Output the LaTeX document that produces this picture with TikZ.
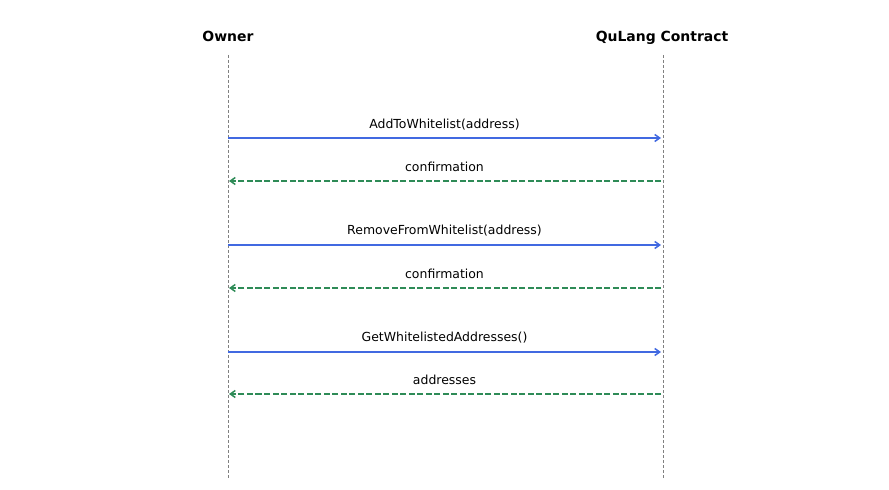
\documentclass[tikz,border=0pt]{standalone}
\usepackage{fontspec}
\setmainfont{DejaVu Sans}
\usetikzlibrary{arrows.meta}
\begin{document}
\begin{tikzpicture}[x=1bp,y=-1bp,
  actor/.style={font=\fontsize{14}{16}\selectfont\bfseries, inner sep=0pt, anchor=base},
  life/.style={draw=gray, line width=0.9bp, dash pattern=on 3bp off 2bp},
  call/.style={draw=royalblue, line width=1.5bp, -{Straight Barb[length=5bp,width=7bp]}},
  reply/.style={draw=seagreen, line width=1.5bp, dash pattern=on 6bp off 2.5bp, -{Straight Barb[length=5bp,width=7bp]}},
  lbl/.style={font=\fontsize{12.5}{14}\selectfont, inner sep=0pt, anchor=base}
]
\definecolor{royalblue}{HTML}{4169E1}
\definecolor{seagreen}{HTML}{2E8B57}
\useasboundingbox (0,0) rectangle (889,490);
\node[actor] (owner) at (228,42) {Owner};
\node[actor] (contract) at (662,42) {QuLang Contract};
\coordinate (oT) at (228,55); \coordinate (oB) at (228,480);
\coordinate (cT) at (663,55); \coordinate (cB) at (663,480);
\draw[life] (oT) -- (oB);
\draw[life] (cT) -- (cB);
% messages
\foreach \y/\n in {138/a,181/b,245/c,288/d,352/e,394/f}{
  \coordinate (o\n) at (228,\y);
  \coordinate (c\n) at (663,\y);
}
\draw[call] (oa) -- ([xshift=-2bp]ca);
\draw[reply] ([xshift=-2bp]cb) -- ([xshift=1bp]ob);
\draw[call] (oc) -- ([xshift=-2bp]cc);
\draw[reply] ([xshift=-2bp]cd) -- ([xshift=1bp]od);
\draw[call] (oe) -- ([xshift=-2bp]ce);
\draw[reply] ([xshift=-2bp]cf) -- ([xshift=1bp]of);
\node[lbl] (la) at (444.5,128.5) {AddToWhitelist(address)};
\node[lbl] (lb) at (444.5,171.5) {confirmation};
\node[lbl] (lc) at (444.5,234.5) {RemoveFromWhitelist(address)};
\node[lbl] (ld) at (444.5,278.5) {confirmation};
\node[lbl] (le) at (444.5,341.5) {GetWhitelistedAddresses()};
\node[lbl] (lf) at (444.5,384.5) {addresses};
\end{tikzpicture}
\end{document}
